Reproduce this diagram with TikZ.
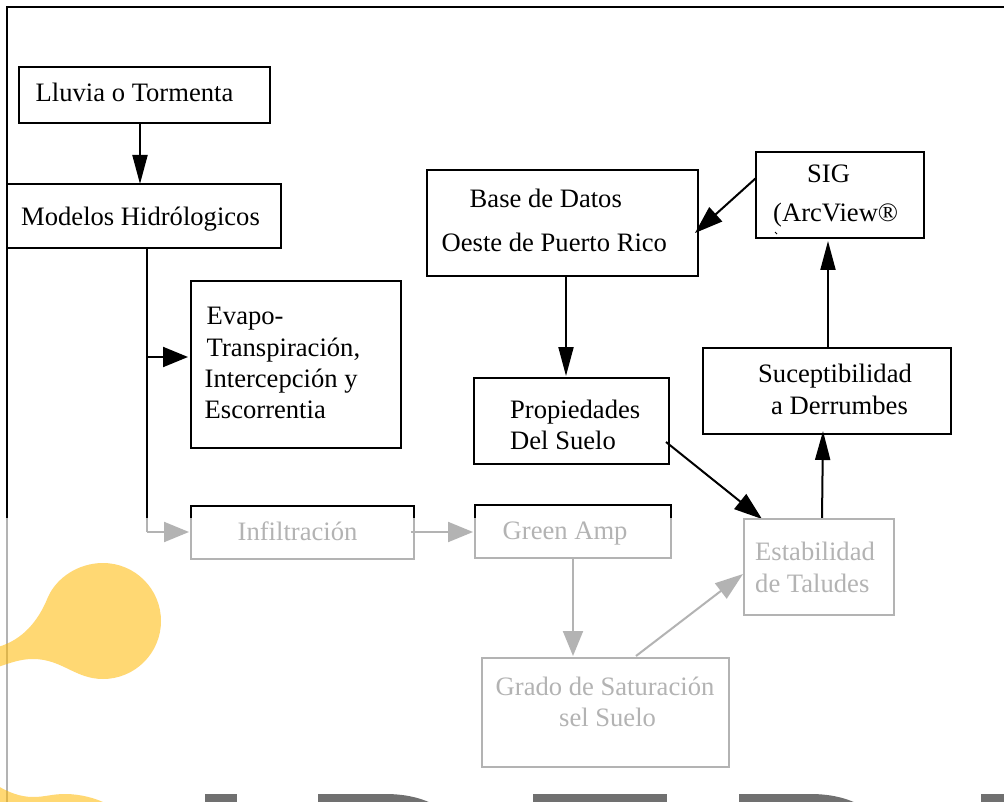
\documentclass[tikz,border=0pt]{standalone}
\usepackage{fontspec}
\setmainfont{Liberation Serif}
\usetikzlibrary{arrows.meta,calc}
\tikzset{
  box/.style={draw=black,line width=2pt,fill=none,rectangle,inner sep=0pt,outer sep=0pt},
  txt/.style={anchor=base west,inner sep=0pt,font=\fontsize{26.6}{30}\selectfont,text=black},
  conn/.style={draw=black,line width=2pt},
  tipa/.style={-{Triangle[length=29pt,width=15pt]}},
  tipb/.style={-{Triangle[length=25pt,width=20pt]}},
  tipc/.style={-{Triangle[length=28pt,width=19pt]}},
  veil/.style={fill=white,fill opacity=0.7,draw=none},
  blob/.style={fill=yfill,fill opacity=0.55,draw=none},
  wm/.style={fill=wmgray,draw=none}
}
\definecolor{yfill}{HTML}{FFB800}
\definecolor{wmgray}{HTML}{707070}
\newcommand{\boxat}[5]{\node[box,minimum width=#4-#2,minimum height=#5-#3] (#1) at ({(#2+#4)/2},{(#3+#5)/2}) {};}
\begin{document}
\begin{tikzpicture}[x=1pt,y=-1pt]
\useasboundingbox (0,0) rectangle (1004,802);
\fill[white] (0,0) rectangle (1004,802);
% frame
\coordinate (fa) at (1004,7);
\coordinate (fb) at (7,7);
\coordinate (fc) at (7,802);
\draw[conn] (fa) -- (fb) -- (fc);
% boxes
\boxat{lluvia}{19}{67}{270}{123}
\boxat{modelos}{7}{184}{281}{248}
\boxat{base}{427}{170}{698}{276}
\boxat{sig}{756}{152}{924}{238}
\boxat{evapo}{191}{281}{401}{448}
\boxat{prop}{474}{378}{669}{464}
\boxat{sucep}{703}{348}{951}{434}
\boxat{infil}{191}{506}{414}{559}
\boxat{green}{475}{505}{671}{558}
\boxat{estab}{744}{519}{894}{615}
\boxat{grado}{482}{658}{729}{767}
% text
\node[txt] (t1) at (35.5,102) {Lluvia o Tormenta};
\node[txt] (t2) at (21,226) {Modelos Hidrólogicos};
\node[txt] (t3) at (469.5,208) {Base de Datos};
\node[txt] (t4) at (441.5,252) {Oeste de Puerto Rico};
\node[txt] (t5) at (807,183) {SIG};
\node[txt] (t6) at (773,222) {(ArcView®};
\node[txt] (t7) at (206.5,324) {Evapo-};
\node[txt] (t8) at (206.5,356) {Transpiración,};
\node[txt] (t9) at (204.5,387) {Intercepción y};
\node[txt] (t10) at (204.5,418) {Escorrentia};
\node[txt] (t11) at (510,418) {Propiedades};
\node[txt] (t12) at (510,449) {Del Suelo};
\node[txt] (t13) at (758,382) {Suceptibilidad};
\node[txt] (t14) at (771,414) {a Derrumbes};
\node[txt] (t15) at (237.5,540) {Infiltración};
\node[txt] (t16) at (502.5,539) {Green Amp};
\node[txt] (t17) at (755,560) {Estabilidad};
\node[txt] (t18) at (755,592) {de Taludes};
\node[txt] (t19) at (495.5,695) {Grado de Saturación};
\node[txt] (t20) at (559,726) {sel Suelo};
% connectors
\coordinate (m1) at ($(modelos.south west)!0.511!(modelos.south east)$);
\coordinate (ev) at ([yshift=7.5pt]evapo.west);
\coordinate (jA) at (m1 |- ev);
\coordinate (jB) at ([yshift=0.5pt]m1 |- infil.west);
\draw[conn,tipa] ([xshift=-4.5pt]lluvia.south) -- ([xshift=-4.5pt,yshift=0pt]lluvia.south |- modelos.north);
\draw[conn] (m1) -- (jB);
\draw[conn,tipb] (jA) -- ([xshift=-3pt]ev);
\draw[conn,tipb] (jB) -- ([xshift=-2pt]jB -| infil.west);
\draw[conn,tipb] ([xshift=-3pt]jB -| infil.east) -- ([xshift=-2pt]jB -| green.west);
\draw[conn,tipa] ([xshift=3.5pt]base.south) -- ([xshift=3.5pt,yshift=2pt]base.south |- prop.north);
\draw[conn,tipc] (sig.west |- 0,178) -- ([xshift=-3pt]base.east |- 0,233);
\draw[conn,tipc] ([xshift=-3pt,yshift=-21pt]prop.east) -- ([xshift=-57pt]estab.north);
\draw[conn,tipa] ([xshift=1pt]sucep.south |- sucep.north) -- ([xshift=1pt,yshift=-3pt]sucep.south |- sig.south);
\draw[conn,tipa] ([xshift=3pt]estab.north) -- ([xshift=-4pt,yshift=3pt]sucep.south);
\draw[conn,tipb] (green.south) -- ([yshift=2pt]green.south |- grado.north);
\draw[conn,tipc] ([xshift=30.5pt,yshift=2pt]grado.north) -- ([xshift=-1pt]estab.west |- 0,574);
\draw[black,line width=1pt] (775,232) -- (777,234);
% veil and watermark
\fill[veil] (0,518) rectangle (1004,802);
\fill[blob] (-2,647) .. controls (22,640) and (38,622) .. (48,597)
  .. controls (57,577) and (79,563) .. (103,563)
  .. controls (135,563) and (161,589) .. (161,621)
  .. controls (161,653) and (135,679) .. (103,679)
  .. controls (75,679) and (62,659) .. (33,659)
  .. controls (20,659) and (10,663) .. (-2,667) -- cycle;
\fill[blob] (-2,786) .. controls (8,792) and (20,797) .. (33,797)
  .. controls (45,797) and (52,794) .. (65,794)
  .. controls (80,794) and (95,798) .. (105,803) -- (-2,803) -- cycle;
\fill[wm] (205,794) rectangle (237,803);
\fill[wm] (318,794) -- (385,794) .. controls (403,794) and (418,797) .. (431,803) -- (318,803) -- cycle;
\fill[wm] (533,794) rectangle (667,803);
\fill[wm] (739,794) -- (810,794) .. controls (828,794) and (843,797) .. (856,803) -- (739,803) -- cycle;
\fill[wm] (981,794) rectangle (1004,803);
\end{tikzpicture}
\end{document}
